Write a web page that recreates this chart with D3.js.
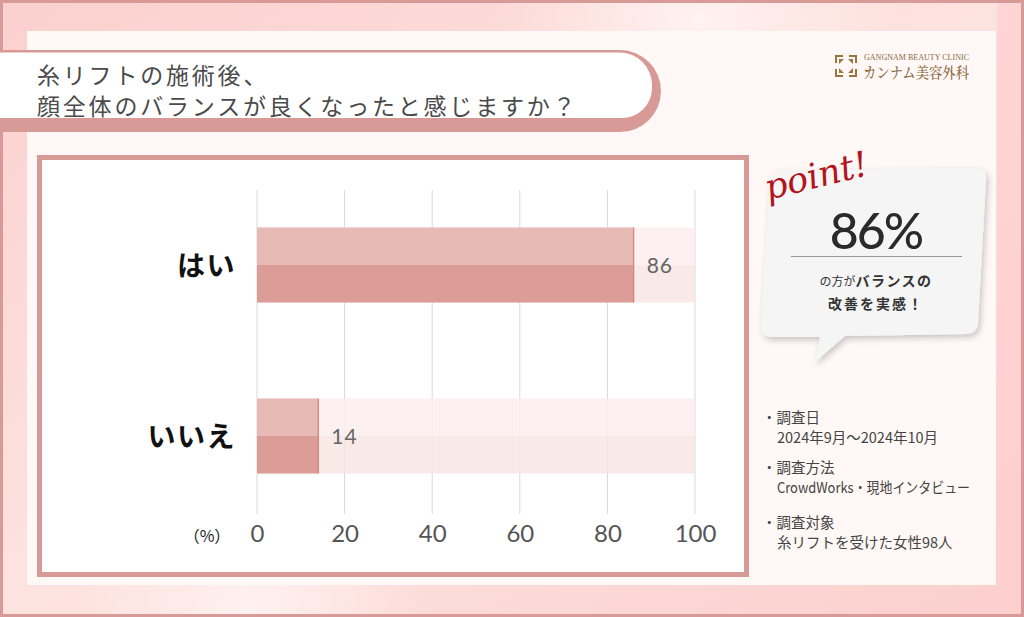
<!DOCTYPE html>
<html><head><meta charset="utf-8">
<script src="https://cdn.jsdelivr.net/npm/d3@7"></script>
<style>
html,body{margin:0;padding:0;background:#fff;}
svg{display:block;}
</style></head>
<body>
<svg id="c" width="1024" height="617"></svg>
<script>
const categories = ["はい", "いいえ"];
const values = [86, 14];
const tickValues = [0, 20, 40, 60, 80, 100];
const titleLines = ["糸リフトの施術後、", "顔全体のバランスが良くなったと感じますか？"];
const noteHeads = ["・調査日", "・調査方法", "・調査対象"];
const noteBodies = ["2024年9月～2024年10月", "CrowdWorks・現地インタビュー", "糸リフトを受けた女性98人"];

const svg = d3.select("#c");
const defs = svg.append("defs");
const jp = "'Noto Sans CJK JP', 'Noto Sans', sans-serif";

// background gradient
const bg = defs.append("linearGradient").attr("id","bg").attr("x1","0").attr("y1","0").attr("x2","1").attr("y2","1");
bg.append("stop").attr("offset","0").attr("stop-color","#fbd0ce");
bg.append("stop").attr("offset","0.5").attr("stop-color","#fde3e0");
bg.append("stop").attr("offset","1").attr("stop-color","#fbcfcd");
svg.append("rect").attr("x",0).attr("y",0).attr("width",1024).attr("height",617).attr("fill","url(#bg)");
const rg = defs.append("radialGradient").attr("id","blob");
rg.append("stop").attr("offset","0").attr("stop-color","#fff4f2").attr("stop-opacity",0.9);
rg.append("stop").attr("offset","1").attr("stop-color","#fff4f2").attr("stop-opacity",0);
svg.append("circle").attr("cx",250).attr("cy",620).attr("r",180).attr("fill","url(#blob)");
svg.append("circle").attr("cx",700).attr("cy",20).attr("r",200).attr("fill","url(#blob)");
svg.append("rect").attr("x",997).attr("y",0).attr("width",27).attr("height",617).attr("fill","#fdcfcf").attr("opacity",0.7);
svg.append("rect").attr("x",1.5).attr("y",1.5).attr("width",1021).attr("height",614).attr("fill","none").attr("stroke","#d89a96").attr("stroke-width",3);

// inner panel
svg.append("rect").attr("x",27).attr("y",31).attr("width",969).attr("height",554).attr("fill","#fff8f7");

// title band
svg.append("path")
  .attr("d","M0,50 L620,50 A41,41 0 0 1 620,132 L0,132 Z")
  .attr("fill","#d89a96");
svg.append("path")
  .attr("d","M0,52.5 L620,52.5 A32.5,32.5 0 0 1 652,85 L652,88 A30,30 0 0 1 622,118 L0,118 Z")
  .attr("fill","#ffffff");
svg.append("g").selectAll("text").data(titleLines).join("text")
  .attr("x",37).attr("y",(d,i)=>84+i*31)
  .attr("font-family",jp).attr("font-size",23).attr("fill","#4a4a4a")
  .attr("letter-spacing",2.8)
  .text(d=>d);

// logo
const logo = svg.append("g");
const lg = logo.append("g").attr("transform","translate(846,66)");
[0,90,180,270].forEach(a=>{
  lg.append("path").attr("transform",`rotate(${a})`)
    .attr("d","M-11,-11 L-3,-11 L-3,-9 L-9,-9 L-9,-3 L-11,-3 Z M-7,-7 L-2,-7 L-7,-2 Z")
    .attr("fill","#9b7540");
});
logo.append("text").attr("x",864).attr("y",60).attr("font-family","'Liberation Serif', serif")
  .attr("font-size",8.5).attr("fill","#8b6a3e").attr("textLength",105).attr("lengthAdjust","spacingAndGlyphs").text("GANGNAM BEAUTY CLINIC");
logo.append("text").attr("x",863).attr("y",78).attr("font-family","'Noto Serif CJK JP','Noto Sans CJK JP', serif")
  .attr("font-size",15).attr("font-weight",500).attr("fill","#8b6a3e").attr("textLength",106).attr("lengthAdjust","spacingAndGlyphs").text("カンナム美容外科");

// chart box
svg.append("rect").attr("x",39.5).attr("y",157.5).attr("width",707).attr("height",417)
  .attr("fill","#ffffff").attr("stroke","#d89a96").attr("stroke-width",5);

const x = d3.scaleLinear().domain([0,100]).range([257,695]);
const yc = d3.scalePoint().domain(categories).range([265,436]);
const bh = 75;

// grid
svg.append("g").selectAll("line").data(tickValues).join("line")
  .attr("x1",d=>x(d)).attr("x2",d=>x(d)).attr("y1",190).attr("y2",514)
  .attr("stroke","#d9d9d9").attr("stroke-width",1);

const bars = svg.append("g").selectAll("g").data(categories).join("g")
  .attr("transform",c=>`translate(0,${yc(c)-bh/2})`);
// track
bars.append("rect").attr("x",x(0)).attr("y",0).attr("width",x(100)-x(0)).attr("height",bh/2).attr("fill","#fbeeed").attr("opacity",0.85);
bars.append("rect").attr("x",x(0)).attr("y",bh/2).attr("width",x(100)-x(0)).attr("height",bh/2).attr("fill","#f8e6e4").attr("opacity",0.85);
// value
bars.append("rect").attr("x",x(0)).attr("y",0).attr("width",(c,i)=>x(values[i])-x(0)).attr("height",bh/2).attr("fill","#e8bab5");
bars.append("rect").attr("x",x(0)).attr("y",bh/2).attr("width",(c,i)=>x(values[i])-x(0)).attr("height",bh/2).attr("fill","#dc9c97");
bars.append("line").attr("x1",(c,i)=>x(values[i])).attr("x2",(c,i)=>x(values[i])).attr("y1",0).attr("y2",bh)
  .attr("stroke","#d5807a").attr("stroke-width",1.2);
bars.append("text").attr("x",(c,i)=>x(values[i])+13).attr("y",bh/2+8)
  .attr("font-family","'Lato','Open Sans',sans-serif").attr("font-size",21).attr("fill","#666")
  .attr("letter-spacing",1).text((c,i)=>values[i]);

// category labels
svg.append("g").selectAll("text").data(categories).join("text")
  .attr("x",236).attr("y",c=>yc(c)+11).attr("text-anchor","end")
  .attr("font-family",jp).attr("font-weight",700).attr("font-size",28).attr("fill","#111")
  .attr("letter-spacing",1.5)
  .text(d=>d);

// x axis
const ax = svg.append("g").attr("transform","translate(0,514)")
  .call(d3.axisBottom(x).tickValues(tickValues).tickSize(0).tickPadding(10).tickFormat(d3.format("d")));
ax.select(".domain").remove();
ax.selectAll("text").attr("font-family","'Lato','Open Sans',sans-serif").attr("font-size",24).attr("fill","#555").attr("dy","0.75em");
svg.append("text").attr("x",207).attr("y",542).attr("text-anchor","middle")
  .attr("font-family",jp).attr("font-size",16).attr("fill","#222").text("（%）");

// point bubble
const sh = defs.append("filter").attr("id","sh").attr("x","-20%").attr("y","-20%").attr("width","140%").attr("height","140%");
sh.append("feDropShadow").attr("dx",2).attr("dy",3).attr("stdDeviation",3).attr("flood-color","#000").attr("flood-opacity",0.22);
svg.append("path").attr("filter","url(#sh)")
  .attr("d","M782,170 L975,168 Q987,168 986,180 L978,323 Q977,334 966,334 L845,336 L815,362 L820,337 L772,337 Q761,337 761,326 L770,182 Q771,171 782,170 Z")
  .attr("fill","#f5f5f5");
svg.append("text").attr("x",768).attr("y",200).attr("transform","rotate(-14,768,200)")
  .attr("font-family","'DejaVu Serif','Liberation Serif',serif").attr("font-style","italic")
  .attr("font-size",35).attr("fill","#b3141c").text("point!");
svg.append("text").attr("x",876).attr("y",249).attr("text-anchor","middle")
  .attr("font-family","'Lato','Open Sans',sans-serif").attr("font-weight",500).attr("font-size",50).attr("fill","#2a2a2a").attr("letter-spacing",-2)
  .text(values[0] + "%");
svg.append("line").attr("x1",791).attr("x2",962).attr("y1",256.5).attr("y2",256.5).attr("stroke","#999").attr("stroke-width",1);
const p1 = svg.append("text").attr("x",876).attr("y",286).attr("text-anchor","middle").attr("font-family",jp).attr("fill","#333");
p1.append("tspan").attr("font-size",12).text("の方が");
p1.append("tspan").attr("font-size",14).attr("font-weight",700).attr("letter-spacing",1.5).text("バランスの");
svg.append("text").attr("x",876).attr("y",309).attr("text-anchor","middle").attr("font-family",jp)
  .attr("font-size",14).attr("font-weight",700).attr("letter-spacing",2).attr("fill","#333").text("改善を実感！");

// notes
const noteY = [418, 468, 523];
const ng = svg.append("g").attr("font-family",jp).attr("font-size",14.5).attr("fill","#444");
ng.selectAll("text.h").data(noteHeads).join("text").attr("class","h")
  .attr("x",762).attr("y",(d,i)=>noteY[i]+5).text(d=>d);
ng.selectAll("text.b").data(noteBodies).join("text").attr("class","b")
  .attr("x",777).attr("y",(d,i)=>noteY[i]+25)
  .each(function(d,i){ if(i===1) d3.select(this).attr("textLength",193).attr("lengthAdjust","spacingAndGlyphs"); })
  .text(d=>d);
</script>
</body></html>
